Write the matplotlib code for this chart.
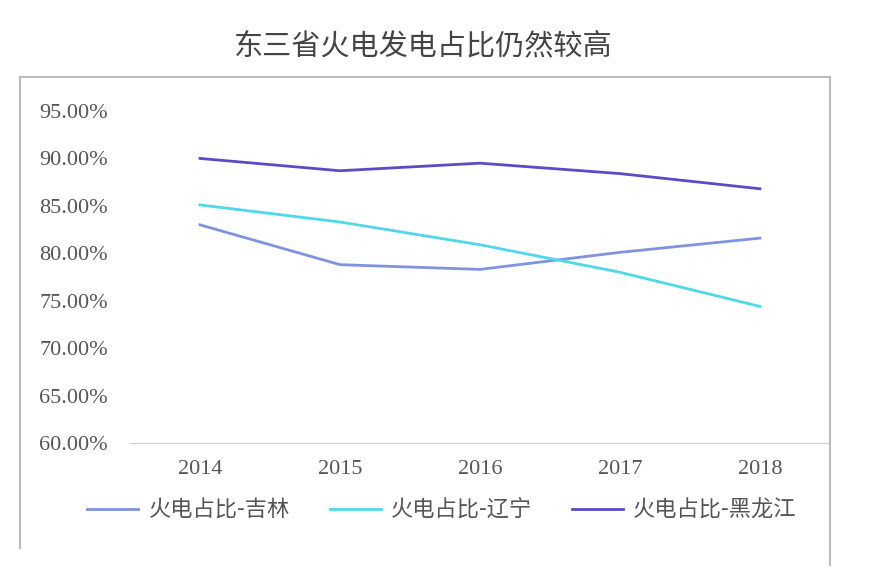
import matplotlib
matplotlib.use("Agg")
import matplotlib.pyplot as plt
from matplotlib.lines import Line2D
from matplotlib.ticker import FuncFormatter

plt.rcParams['font.family'] = ['Noto Sans CJK SC', 'DejaVu Sans']

years = ['2014', '2015', '2016', '2017', '2018']
jilin = [0.830, 0.788, 0.783, 0.801, 0.816]
liaoning = [0.851, 0.833, 0.809, 0.780, 0.744]
heilongjiang = [0.900, 0.887, 0.895, 0.884, 0.868]

series_names = ['火电占比-吉林', '火电占比-辽宁', '火电占比-黑龙江']
colors = ['#7f93df', '#4fd8e8', '#5a4cc4']

W, H = 871, 585
fig = plt.figure(figsize=(W / 100, H / 100), dpi=100)
ax = fig.add_axes([130 / W, 1 - 443 / H, 700 / W, 332 / H])

x = range(len(years))
for vals, name, c in zip([jilin, liaoning, heilongjiang], series_names, colors):
    ax.plot(x, vals, color=c, lw=2, label=name)

ax.set_xlim(-0.5, len(years) - 0.5)
ax.set_ylim(0.60, 0.95)
ax.set_yticks([0.60, 0.65, 0.70, 0.75, 0.80, 0.85, 0.90, 0.95])
ax.yaxis.set_major_formatter(FuncFormatter(lambda v, p: f'{v * 100:.2f}%'))
ax.set_xticks(list(x))
ax.set_xticklabels(years)
for lab in ax.get_xticklabels() + ax.get_yticklabels():
    lab.set_fontfamily('Liberation Serif')
    lab.set_fontsize(16)
    lab.set_color('#555555')
ax.tick_params(length=0)
ax.tick_params(axis='y', pad=16)
ax.tick_params(axis='x', pad=12)
for s in ['top', 'right', 'left']:
    ax.spines[s].set_visible(False)
ax.spines['bottom'].set_color('#d0d0d0')

leg = fig.legend(loc='center', bbox_to_anchor=(442 / W, 1 - 510 / H), ncol=3,
                 frameon=False, fontsize=16, handlelength=2.3, handletextpad=0.45,
                 columnspacing=1.8)
for t in leg.get_texts():
    t.set_color('#555555')

fig.text(423 / W, 1 - 46 / H, '东三省火电发电占比仍然较高', ha='center', va='center',
         fontsize=21, color='#444444')

# outer frame
bc = '#bbbbbb'
fig.add_artist(Line2D([20 / W, 830 / W], [1 - 77 / H, 1 - 77 / H], color=bc, lw=1.5))
fig.add_artist(Line2D([20 / W, 20 / W], [1 - 77 / H, 1 - 548 / H], color=bc, lw=1.5))
fig.add_artist(Line2D([830 / W, 830 / W], [1 - 77 / H, 1 - 565 / H], color=bc, lw=1.5))

fig.savefig('out.png', dpi=100)
